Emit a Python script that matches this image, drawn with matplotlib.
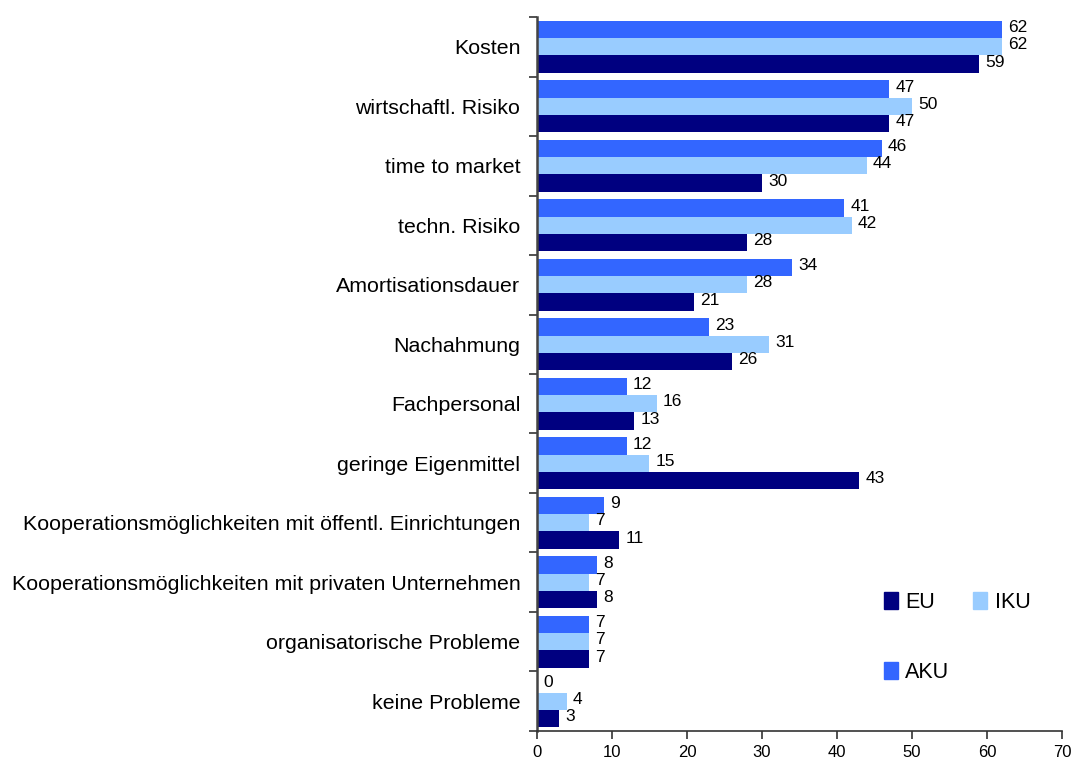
import numpy as np
import matplotlib
matplotlib.use('Agg')
import matplotlib.pyplot as plt
import matplotlib.patches as mpatches

plt.rcParams['font.family'] = ['Liberation Sans', 'DejaVu Sans']

categories = ['Kosten', 'wirtschaftl. Risiko', 'time to market', 'techn. Risiko',
              'Amortisationsdauer', 'Nachahmung', 'Fachpersonal', 'geringe Eigenmittel',
              'Kooperationsmöglichkeiten mit öffentl. Einrichtungen',
              'Kooperationsmöglichkeiten mit privaten Unternehmen',
              'organisatorische Probleme', 'keine Probleme']
aku = [62, 47, 46, 41, 34, 23, 12, 12, 9, 8, 7, 0]
iku = [62, 50, 44, 42, 28, 31, 16, 15, 7, 7, 7, 4]
eu = [59, 47, 30, 28, 21, 26, 13, 43, 11, 8, 7, 3]

c_aku = '#3366FF'
c_iku = '#99CCFF'
c_eu = '#000080'

fig = plt.figure(figsize=(10.75, 7.6), dpi=100)
ax = fig.add_axes([0.4995, 0.0382, 0.4884, 0.9394])

y = np.arange(len(categories))
h = 0.29
series = [(aku, c_aku, -h), (iku, c_iku, 0), (eu, c_eu, h)]
for vals, col, off in series:
    bars = ax.barh(y + off, vals, height=h, color=col, edgecolor='none')
    for b, v in zip(bars, vals):
        ax.text(b.get_width() + 0.8, b.get_y() + b.get_height() / 2 - 0.03, str(v),
                va='center', ha='left', fontsize=12.5)

ax.set_xlim(0, 70)
ax.set_ylim(len(categories) - 0.5, -0.5)
ax.set_xticks(range(0, 71, 10))
ax.set_yticks(y)
ax.set_yticklabels(categories, fontsize=15.4)
ax.set_yticks(np.arange(-0.5, len(categories), 1), minor=True)
ax.tick_params(axis='y', which='major', length=0, pad=12)
ax.tick_params(axis='y', which='minor', length=6, width=1.2, color='#333333', direction='out')
ax.tick_params(axis='x', length=6, width=1.2, color='#333333', labelsize=12, pad=4)

for s in ['top', 'right']:
    ax.spines[s].set_visible(False)
ax.spines['left'].set_color('#444444')
ax.spines['left'].set_linewidth(1.8)
ax.spines['bottom'].set_color('#333333')
ax.spines['bottom'].set_linewidth(1.2)

handles = [mpatches.Patch(color=c_eu, label='EU'),
           mpatches.Patch(color=c_aku, label='AKU'),
           mpatches.Patch(color=c_iku, label='IKU')]
fig.legend(handles=handles, ncol=2, frameon=False, fontsize=15.5,
           loc='upper left', bbox_to_anchor=(0.8121, 0.2355),
           handlelength=0.65, handleheight=0.8, handletextpad=0.35,
           labelspacing=2.28, columnspacing=1.1, borderpad=0)

fig.savefig('out.png', dpi=100)
